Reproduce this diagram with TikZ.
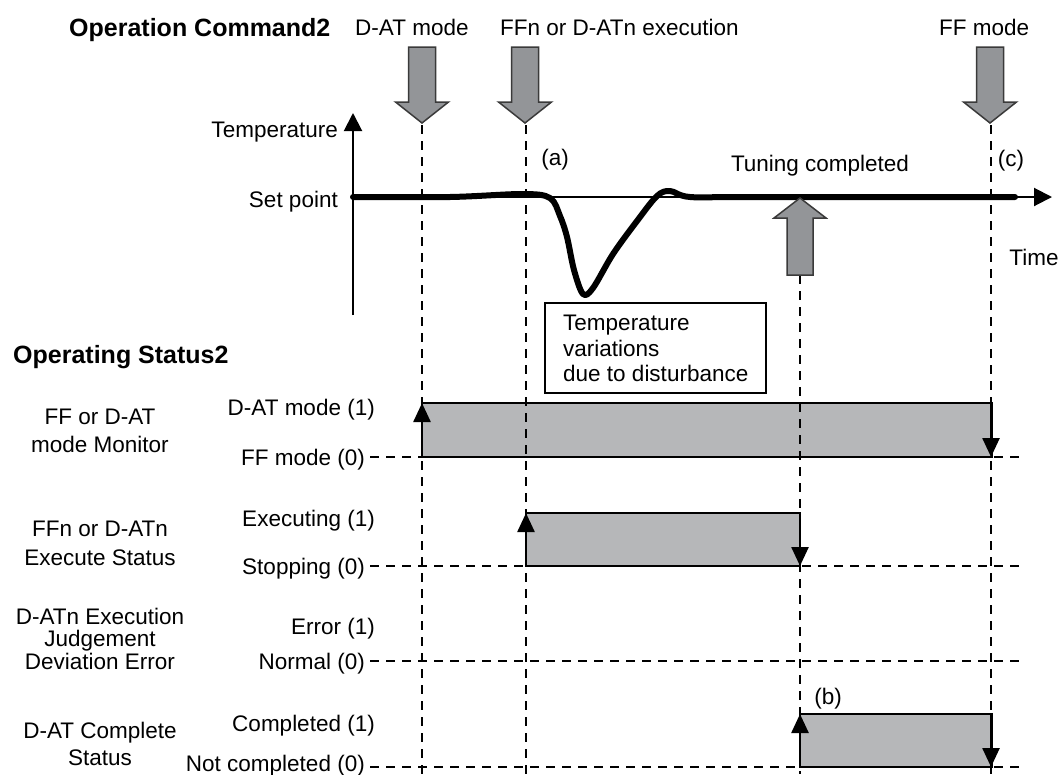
\documentclass[tikz,border=0pt]{standalone}
\usepackage{fontspec}
\setmainfont{Liberation Sans}
\usetikzlibrary{arrows.meta}
\definecolor{arrowgray}{HTML}{939598}
\definecolor{arrowedge}{HTML}{3A3A3A}
\definecolor{boxgray}{HTML}{B6B7B9}
\begin{document}
\begin{tikzpicture}[x=1pt,y=-1pt,
  txt/.style={font=\fontsize{22.5}{27}\selectfont, inner sep=0pt},
  boldtxt/.style={font=\fontsize{25}{30}\selectfont\bfseries, inner sep=0pt},
  vdash/.style={line width=1.2pt, dash pattern=on 9pt off 7pt},
  garrow/.style={fill=arrowgray, draw=arrowedge, line width=1.5pt, line join=miter},
  sigbox/.style={fill=boxgray, draw=black, line width=1.5pt},
  edgearrow/.style={line width=2.5pt, -{Triangle[width=17pt,length=19pt]}},
  curve/.style={line width=6pt, line cap=round, line join=round},
  axis/.style={line width=2pt, -{Triangle[width=18pt,length=18pt]}}
]
\useasboundingbox (0,0) rectangle (1059,774);

% ---- time instants
\coordinate (aTop) at (422,125);  \coordinate (aBot) at (422,774);
\coordinate (bTop) at (526,125);  \coordinate (bBot) at (526,774);
\coordinate (cTop) at (800,275);  \coordinate (cBot) at (800,774);
\coordinate (dTop) at (991,125);  \coordinate (dBot) at (991,774);

% ---- signal boxes
\draw[sigbox] (422,403) rectangle (992,457);
\draw[sigbox] (526,513) rectangle (800,566);
\draw[sigbox] (800,714) rectangle (992,767);

% ---- dashed grid
\foreach \p in {a,b,c,d} \draw[vdash] (\p Top) -- (\p Bot);
\foreach \yy in {457,566,661,767} \draw[vdash] (370,\yy) -- (1020,\yy);

% ---- edge arrows of signals
\draw[edgearrow] (422,457) -- (422,403);
\draw[edgearrow] (991,403) -- (991,457);
\draw[edgearrow] (526,566) -- (526,513);
\draw[edgearrow] (800,513) -- (800,566);
\draw[edgearrow] (800,767) -- (800,714);
\draw[edgearrow] (991,714) -- (991,767);

% ---- command arrows (down)
\foreach \xx in {422,525,990}
  \draw[garrow, shift={(\xx,0)}] (-13.5,47) -- (13.5,47) -- (13.5,102) -- (26.5,102)
     -- (0,123) -- (-26.5,102) -- (-13.5,102) -- cycle;

% ---- axes
\coordinate (origin) at (353,197);
\draw[axis] (353,315) -- (353,113);
\draw[axis] (origin) -- (1052,197);

% ---- temperature curve
\draw[curve] plot[smooth, tension=0.55] coordinates {(353,197) (450,197) (523,194) (550,198)
  (560,216) (567,237) (574,270) (583,294) (593,288) (613,254) (637,221) (657,196)
  (670,191) (690,197) (750,197) (1015,197)};

% ---- tuning completed arrow (up)
\draw[garrow] (787,275) -- (787,218) -- (774,218) -- (800,198) -- (826,218)
  -- (813,218) -- (813,275) -- cycle;

% ---- note box
\node[draw=black, line width=1.5pt, minimum width=221pt, minimum height=90pt,
  anchor=north west, inner sep=0pt] (note) at (544,302) {};
\node[txt, anchor=base west] (n1) at (563,330) {Temperature};
\node[txt, anchor=base west] (n2) at (563,356) {variations};
\node[txt, anchor=base west] (n3) at (563,381) {due to disturbance};

% ---- top texts
\node[boldtxt, anchor=base west] (opcmd) at (69,36) {Operation Command2};
\node[txt, anchor=base west] (cmdA) at (355,35) {D-AT mode};
\node[txt, anchor=base west] (cmdB) at (500,35) {FFn or D-ATn execution};
\node[txt, anchor=base west] (cmdD) at (939,35) {FF mode};

\node[txt, anchor=base east] (ytitle) at (338,137) {Temperature};
\node[txt, anchor=base east] (setp) at (338,207) {Set point};
\node[txt, anchor=base] (la) at (555,165) {(a)};
\node[txt, anchor=base] (lc) at (1011,166) {(c)};
\node[txt, anchor=base] (tun) at (820,171) {Tuning completed};
\node[txt, anchor=base] (xtitle) at (1034,265) {Time};
\node[txt, anchor=base] (lb) at (828,704) {(b)};

\node[boldtxt, anchor=base west] (opst) at (13,363) {Operating Status2};

% ---- left signal names
\node[txt, anchor=base] (s1a) at (100,424) {FF or D-AT};
\node[txt, anchor=base] (s1b) at (100,452) {mode Monitor};
\node[txt, anchor=base] (s2a) at (100,536) {FFn or D-ATn};
\node[txt, anchor=base] (s2b) at (100,565) {Execute Status};
\node[txt, anchor=base] (s3a) at (100,624) {D-ATn Execution};
\node[txt, anchor=base] (s3b) at (100,646) {Judgement};
\node[txt, anchor=base] (s3c) at (100,669) {Deviation Error};
\node[txt, anchor=base] (s4a) at (100,738) {D-AT Complete};
\node[txt, anchor=base] (s4b) at (100,765) {Status};

% ---- level labels
\node[txt, anchor=base east] (v1h) at (375,415) {D-AT mode (1)};
\node[txt, anchor=base east] (v1l) at (365,465) {FF mode (0)};
\node[txt, anchor=base east] (v2h) at (375,526) {Executing (1)};
\node[txt, anchor=base east] (v2l) at (365,574) {Stopping (0)};
\node[txt, anchor=base east] (v3h) at (375,634) {Error (1)};
\node[txt, anchor=base east] (v3l) at (365,669) {Normal (0)};
\node[txt, anchor=base east] (v4h) at (375,731) {Completed (1)};
\node[txt, anchor=base east] (v4l) at (365,771) {Not completed (0)};
\end{tikzpicture}
\end{document}
